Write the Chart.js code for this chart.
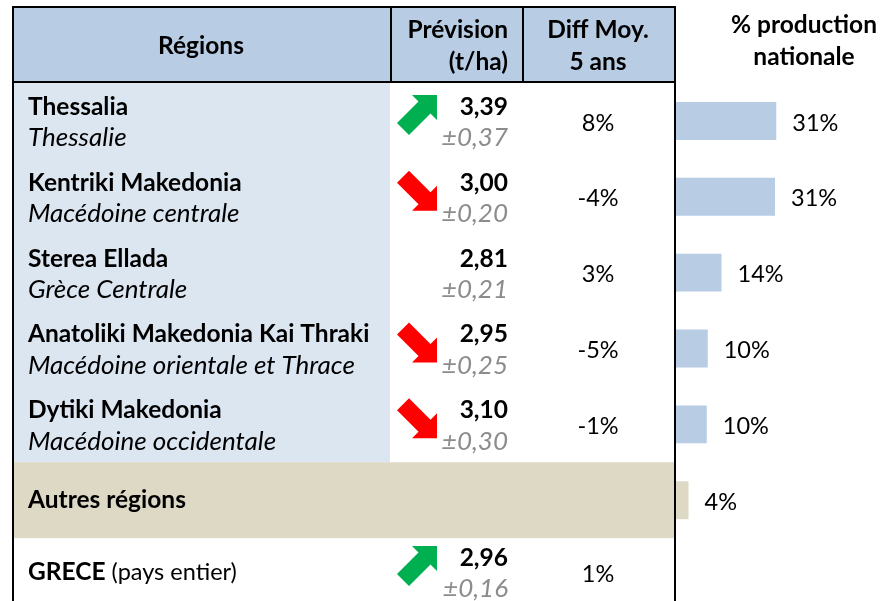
<!DOCTYPE html>
<html>
<head>
<meta charset="utf-8">
<script src="https://cdn.jsdelivr.net/npm/chart.js@4.4.1/dist/chart.umd.min.js"></script>
<style>
  html, body { margin: 0; padding: 0; background: #fff; overflow: hidden; }
  #wrap { width: 883px; height: 614px; }
</style>
</head>
<body>
<div id="wrap"><canvas id="chart" width="883" height="614"></canvas></div>
<script>
// rows of the table (last one is the country total)
const regions = ["Thessalia", "Kentriki Makedonia", "Sterea Ellada", "Anatoliki Makedonia Kai Thraki", "Dytiki Makedonia", "Autres régions", "GRECE"];
const regionsFr = ["Thessalie", "Macédoine centrale", "Grèce Centrale", "Macédoine orientale et Thrace", "Macédoine occidentale", "", "(pays entier)"];
const forecast = [3.39, 3.00, 2.81, 2.95, 3.10, null, 2.96];      // t/ha
const forecastErr = [0.37, 0.20, 0.21, 0.25, 0.30, null, 0.16];
const diff5y = [8, -4, 3, -5, -1, null, 1];                        // % vs 5-year mean
const trend = ["up", "down", null, "down", "down", null, "up"];
const shareNational = [31.3, 30.9, 14.2, 9.9, 9.6, 3.9, null];     // % of national production

const FONT = "Lato, 'Open Sans', sans-serif";
const BOLD = "bold 24.5px " + FONT, REG = "23.5px " + FONT, ITAL = "italic 26px " + FONT;
const X0 = 12, X1 = 390, X2 = 522, XR = 674, HEAD_TOP = 6;

function fmt(v) { return v.toFixed(2).replace(".", ","); }

function drawArrow(ctx, x, y, dir, color) {
  // 40x40 block arrow, drawn for "up" then mirrored for "down"
  const pts = [[40,0],[40,25],[33.5,18.5],[12,40],[0,28],[21.5,6.5],[15,0]];
  ctx.fillStyle = color;
  ctx.beginPath();
  pts.forEach((p, i) => {
    const px = x + p[0], py = dir === "up" ? y + p[1] : y + 40 - p[1];
    i ? ctx.lineTo(px, py) : ctx.moveTo(px, py);
  });
  ctx.closePath();
  ctx.fill();
}

const tablePlugin = {
  id: "table",
  beforeDatasetsDraw(chart) {
    const ctx = chart.ctx, ys = chart.scales.y;
    const band = ys.getPixelForValue(1) - ys.getPixelForValue(0);
    const top = i => ys.getPixelForValue(i) - band / 2;
    ctx.save();
    ctx.fillStyle = "#B8CCE4";
    ctx.fillRect(X0, HEAD_TOP, XR - X0, top(0) - HEAD_TOP);
    ctx.fillStyle = "#DCE6F1";
    ctx.fillRect(X0, top(0), X1 - X0, top(5) - top(0));
    ctx.fillStyle = "#DDD9C4";
    ctx.fillRect(X0, top(5), XR - X0, band);
    ctx.restore();
  },
  afterDatasetsDraw(chart) {
    const ctx = chart.ctx, ys = chart.scales.y;
    const band = ys.getPixelForValue(1) - ys.getPixelForValue(0);
    const top0 = ys.getPixelForValue(0) - band / 2;
    ctx.save();

    // borders
    ctx.fillStyle = "#000";
    ctx.fillRect(X0, HEAD_TOP, XR + 2 - X0, 2);
    ctx.fillRect(X0, HEAD_TOP, 2, chart.height);
    ctx.fillRect(XR, HEAD_TOP, 2, chart.height);
    ctx.fillRect(X0, top0 - 2, XR + 2 - X0, 2);
    ctx.fillRect(X1, HEAD_TOP, 2, top0 - HEAD_TOP);
    ctx.fillRect(X2, HEAD_TOP, 2, top0 - HEAD_TOP);

    // header
    ctx.textBaseline = "middle";
    ctx.fillStyle = "#000";
    ctx.font = BOLD;
    ctx.textAlign = "center";
    ctx.fillText("Régions", (X0 + X1) / 2, 46);
    ctx.fillText("Diff Moy.", 598, 30);
    ctx.fillText("5 ans", 598, 62);
    ctx.fillText("% production", 804, 25);
    ctx.fillText("nationale", 804, 57);
    ctx.textAlign = "right";
    ctx.fillText("Prévision", 508, 30);
    ctx.fillText("(t/ha)", 508, 62);

    // rows
    regions.forEach((name, i) => {
      const last = i === regions.length - 1;
      const c = ys.getPixelForValue(i) + (last ? -4 : 0);
      ctx.fillStyle = "#000";
      ctx.textAlign = "left";
      if (regionsFr[i] === "") {
        ctx.font = BOLD;
        ctx.fillText(name, 28, c);
      } else if (last) {
        ctx.font = BOLD;
        ctx.fillText(name, 28, c);
        const w = ctx.measureText(name).width;
        ctx.font = REG;
        ctx.fillText(" " + regionsFr[i], 28 + w, c);
      } else {
        ctx.font = BOLD;
        ctx.fillText(name, 28, c - 14);
        ctx.font = ITAL;
        ctx.fillText(regionsFr[i], 28, c + 17);
      }
      if (forecast[i] !== null) {
        ctx.textAlign = "right";
        ctx.font = BOLD;
        ctx.fillText(fmt(forecast[i]), 508, c - 14);
        ctx.fillStyle = "#8C8C8C";
        ctx.font = ITAL;
        ctx.fillText("±" + fmt(forecastErr[i]), 508, c + 17);
        ctx.fillStyle = "#000";
        ctx.textAlign = "center";
        ctx.font = REG;
        ctx.fillText(diff5y[i] + "%", 598, c + 2);
      }
      if (trend[i]) {
        drawArrow(ctx, 397, c - 26, trend[i], trend[i] === "up" ? "#00B050" : "#FF0000");
      }
    });

    // bar value labels
    const meta = chart.getDatasetMeta(0);
    ctx.textAlign = "left";
    ctx.fillStyle = "#000";
    ctx.font = REG;
    meta.data.forEach((bar, i) => {
      if (shareNational[i] === null) return;
      ctx.fillText(Math.round(shareNational[i]) + "%", bar.x + 16, bar.y + 2);
    });
    ctx.restore();
  }
};

new Chart(document.getElementById("chart"), {
  type: "bar",
  data: {
    labels: regions,
    datasets: [{
      label: "% production nationale",
      data: shareNational,
      backgroundColor: regions.map((r, i) => i === 5 ? "#DDD9C4" : "#B8CCE4"),
      borderWidth: 0,
      barPercentage: 1,
      categoryPercentage: 0.5
    }]
  },
  options: {
    indexAxis: "y",
    responsive: false,
    devicePixelRatio: 1,
    animation: false,
    layout: { padding: { left: 676, right: 0, top: 83, bottom: 0 } },
    scales: {
      x: { display: false, min: 0, max: 64.6 },
      y: { display: false }
    },
    plugins: { legend: { display: false }, tooltip: { enabled: false } }
  },
  plugins: [tablePlugin]
});
</script>
</body>
</html>
